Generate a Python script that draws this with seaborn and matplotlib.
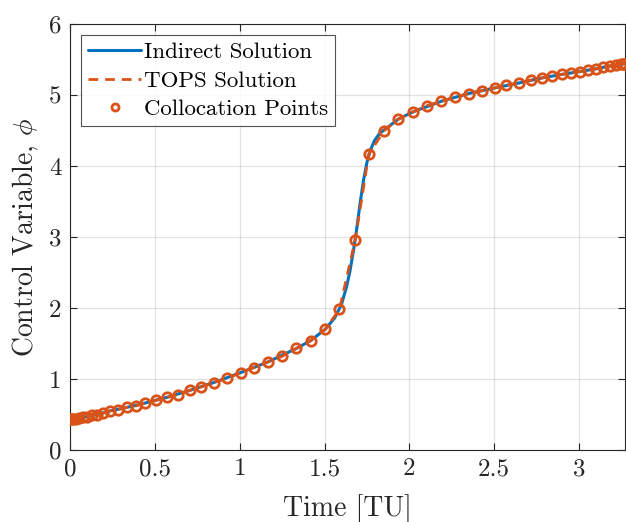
import matplotlib
matplotlib.use("Agg")
import matplotlib.pyplot as plt
import seaborn as sns
import pandas as pd

# Collocation points
colloc_t = [0.000, 0.002, 0.009, 0.019, 0.034, 0.053, 0.075, 0.101, 0.129, 0.160, 0.197,
            0.235, 0.284, 0.334, 0.388, 0.441, 0.506, 0.569, 0.634, 0.706, 0.775,
            0.847, 0.928, 1.006, 1.084, 1.166, 1.251, 1.334, 1.418, 1.504, 1.588,
            1.681, 1.761, 1.853, 1.935, 2.019, 2.103, 2.186, 2.269, 2.349, 2.428,
            2.504, 2.572, 2.647, 2.716, 2.781, 2.839, 2.898, 2.955, 3.004, 3.055,
            3.102, 3.141, 3.181, 3.216, 3.246, 3.258, 3.266, 3.271]
colloc_phi = [0.43, 0.43, 0.43, 0.44, 0.44, 0.45, 0.46, 0.47, 0.49, 0.50, 0.52,
              0.55, 0.57, 0.60, 0.62, 0.66, 0.70, 0.74, 0.78, 0.84, 0.89,
              0.95, 1.01, 1.09, 1.16, 1.24, 1.32, 1.43, 1.54, 1.70, 1.98,
              2.96, 4.17, 4.50, 4.66, 4.76, 4.85, 4.91, 4.97, 5.02, 5.06,
              5.10, 5.14, 5.17, 5.21, 5.24, 5.27, 5.29, 5.31, 5.33, 5.35,
              5.37, 5.39, 5.41, 5.42, 5.43, 5.44, 5.44, 5.44]

# Indirect solution (smooth curve)
indirect_t = [0.000, 0.053, 0.101, 0.160, 0.235, 0.334, 0.441, 0.569, 0.706, 0.847,
              1.006, 1.166, 1.334, 1.418, 1.504, 1.560, 1.600, 1.630, 1.650, 1.670,
              1.690, 1.710, 1.730, 1.750, 1.770, 1.795, 1.825, 1.853, 1.935, 2.019,
              2.186, 2.349, 2.504, 2.647, 2.781, 2.898, 3.004, 3.102, 3.181, 3.246, 3.271]
indirect_phi = [0.43, 0.45, 0.47, 0.50, 0.55, 0.60, 0.66, 0.74, 0.84, 0.95,
                1.09, 1.24, 1.43, 1.54, 1.70, 1.86, 2.05, 2.30, 2.52, 2.80,
                3.12, 3.48, 3.80, 4.05, 4.22, 4.36, 4.46, 4.51, 4.66, 4.76,
                4.91, 5.02, 5.10, 5.17, 5.24, 5.29, 5.33, 5.37, 5.41, 5.43, 5.44]

legend_labels = ["Indirect Solution", "TOPS Solution", "Collocation Points"]
x_ticks = [0, 0.5, 1, 1.5, 2, 2.5, 3]
y_ticks = [0, 1, 2, 3, 4, 5, 6]

sns.set_theme(style="white")
plt.rcParams["font.family"] = ["cmr10", "DejaVu Serif"]
plt.rcParams["mathtext.fontset"] = "cm"
plt.rcParams["axes.formatter.use_mathtext"] = True

blue = "#0072BD"
orange = "#D95319"
axcol = "#262626"

fig = plt.figure(figsize=(6.26, 5.22), dpi=100)
ax = fig.add_axes([70 / 626, 72 / 522, 555 / 626, 426 / 522])

df_ind = pd.DataFrame({"t": indirect_t, "phi": indirect_phi})
df_col = pd.DataFrame({"t": colloc_t, "phi": colloc_phi})

sns.lineplot(data=df_ind, x="t", y="phi", ax=ax, color=blue, linewidth=2.2,
             sort=False, estimator=None, label=legend_labels[0], zorder=3)
sns.lineplot(data=df_col, x="t", y="phi", ax=ax, color=orange, linewidth=2.0,
             sort=False, estimator=None, label=legend_labels[1], zorder=4,
             dashes=False, linestyle=(0, (3.5, 2.5)))
ax.plot(colloc_t, colloc_phi, linestyle="none", marker="o", markersize=6.8,
        markerfacecolor="none", markeredgecolor=orange, markeredgewidth=2.0,
        label=legend_labels[2], zorder=5)

ax.set_xlim(0, 3.271)
ax.set_ylim(0, 6)
ax.set_xticks(x_ticks)
ax.set_xticklabels(["0", "0.5", "1", "1.5", "2", "2.5", "3"])
ax.set_yticks(y_ticks)
ax.set_yticklabels([str(v) for v in y_ticks])

ax.grid(True, color="#262626", alpha=0.13, linewidth=0.9)
ax.set_axisbelow(True)
for s in ax.spines.values():
    s.set_color(axcol)
    s.set_linewidth(0.8)
    s.set_visible(True)
ax.tick_params(direction="in", length=5, width=0.8, colors=axcol, labelsize=18,
               top=True, right=True, bottom=True, left=True, labelcolor="#262626", pad=6)

ax.set_xlabel("Time [TU]", fontsize=20, color="#262626", labelpad=10)
ax.set_ylabel(r"Control Variable, $\phi$", fontsize=20, color="#262626", labelpad=6)

leg = ax.legend(loc="upper left", fontsize=16.5, frameon=True, fancybox=False,
                borderpad=0.3, handlelength=2.3, handletextpad=0.15, labelspacing=0.36,
                borderaxespad=0.5, markerscale=0.75)
leg.get_frame().set_edgecolor(axcol)
leg.get_frame().set_linewidth(0.8)
for t in leg.get_texts():
    t.set_color("black")

fig.savefig("out.png", dpi=100)
